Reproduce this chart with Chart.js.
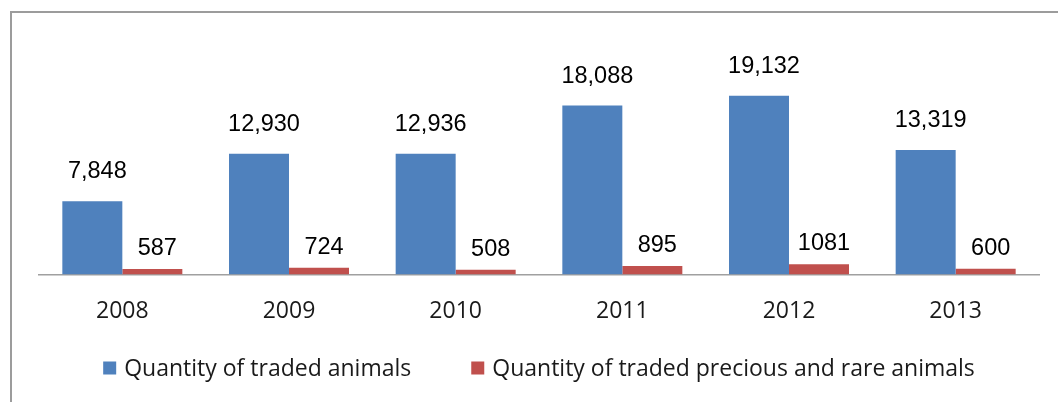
<!DOCTYPE html>
<html>
<head>
<meta charset="utf-8">
<script src="https://cdn.jsdelivr.net/npm/chart.js@4/dist/chart.umd.min.js"></script>
<style>
  html, body { margin: 0; padding: 0; background: #fff; overflow: hidden; }
  #wrap { position: relative; width: 1058px; height: 402px; }
  #frame {
    position: absolute; left: 10px; top: 11px; width: 1100px; height: 420px;
    border-top: 2px solid #9c9c9c; border-left: 2px solid #9c9c9c;
  }
  canvas { position: absolute; left: 0; top: 0; }
</style>
</head>
<body>
<div id="wrap">
  <div id="frame"></div>
  <canvas id="chart" width="1058" height="402"></canvas>
</div>
<script>
// Trade volumes by year
const years = ['2008', '2009', '2010', '2011', '2012', '2013'];
const tradedAnimals = [7848, 12930, 12936, 18088, 19132, 13319];
const preciousRareAnimals = [587, 724, 508, 895, 1081, 600];
const seriesNames = ['Quantity of traded animals', 'Quantity of traded precious and rare animals'];
const seriesColors = ['#4F81BD', '#C0504D'];

const calibriLike = '"Open Sans", "Lato", sans-serif';
const arialLike = '"Liberation Sans", Arial, sans-serif';

// Value labels above each bar: thousands separator on the first series only
const valueLabels = {
  id: 'valueLabels',
  afterDatasetsDraw(chart) {
    const ctx = chart.ctx;
    ctx.save();
    ctx.font = '23.5px ' + arialLike;
    ctx.fillStyle = '#000';
    ctx.textAlign = 'center';
    ctx.textBaseline = 'alphabetic';
    chart.data.datasets.forEach((ds, di) => {
      const meta = chart.getDatasetMeta(di);
      const gap = di === 0 ? 23 : 14;
      meta.data.forEach((bar, i) => {
        const v = ds.data[i];
        const txt = di === 0 ? v.toLocaleString('en-US') : String(v);
        ctx.fillText(txt, bar.x + 5, bar.y - gap);
      });
    });
    ctx.restore();
  }
};

// Legend row along the bottom
const bottomLegend = {
  id: 'bottomLegend',
  afterDraw(chart) {
    const ctx = chart.ctx;
    ctx.save();
    ctx.font = '23px ' + calibriLike;
    const box = 13, boxGap = 8, itemGap = 60;
    const items = chart.data.datasets.map(ds => ({
      text: ds.label, color: ds.backgroundColor, w: ctx.measureText(ds.label).width
    }));
    const total = items.reduce((s, it) => s + box + boxGap + it.w, 0) + itemGap * (items.length - 1);
    const cx = (chart.chartArea.left + chart.chartArea.right) / 2;
    let x = cx - total / 2;
    const cy = 369;
    ctx.textBaseline = 'middle';
    ctx.textAlign = 'left';
    items.forEach(it => {
      ctx.fillStyle = it.color;
      ctx.fillRect(x, cy - box / 2 - 1, box, box);
      ctx.fillStyle = '#1a1a1a';
      ctx.fillText(it.text, x + box + boxGap, cy);
      x += box + boxGap + it.w + itemGap;
    });
    ctx.restore();
  }
};

new Chart(document.getElementById('chart'), {
  type: 'bar',
  data: {
    labels: years,
    datasets: [
      { label: seriesNames[0], data: tradedAnimals, backgroundColor: seriesColors[0] },
      { label: seriesNames[1], data: preciousRareAnimals, backgroundColor: seriesColors[1] }
    ]
  },
  options: {
    responsive: false,
    animation: false,
    devicePixelRatio: 1,
    layout: { padding: { left: 39, right: 19, top: 41, bottom: 54 } },
    datasets: { bar: { barPercentage: 1, categoryPercentage: 0.72 } },
    plugins: {
      legend: { display: false },
      tooltip: { enabled: false }
    },
    scales: {
      x: {
        grid: { display: false, drawTicks: false },
        border: { display: true, color: '#a0a0a0', width: 1.5 },
        ticks: { padding: 23, color: '#1a1a1a', font: { family: calibriLike, size: 23 } }
      },
      y: {
        display: false,
        min: 0,
        max: 25000
      }
    }
  },
  plugins: [valueLabels, bottomLegend]
});
</script>
</body>
</html>
